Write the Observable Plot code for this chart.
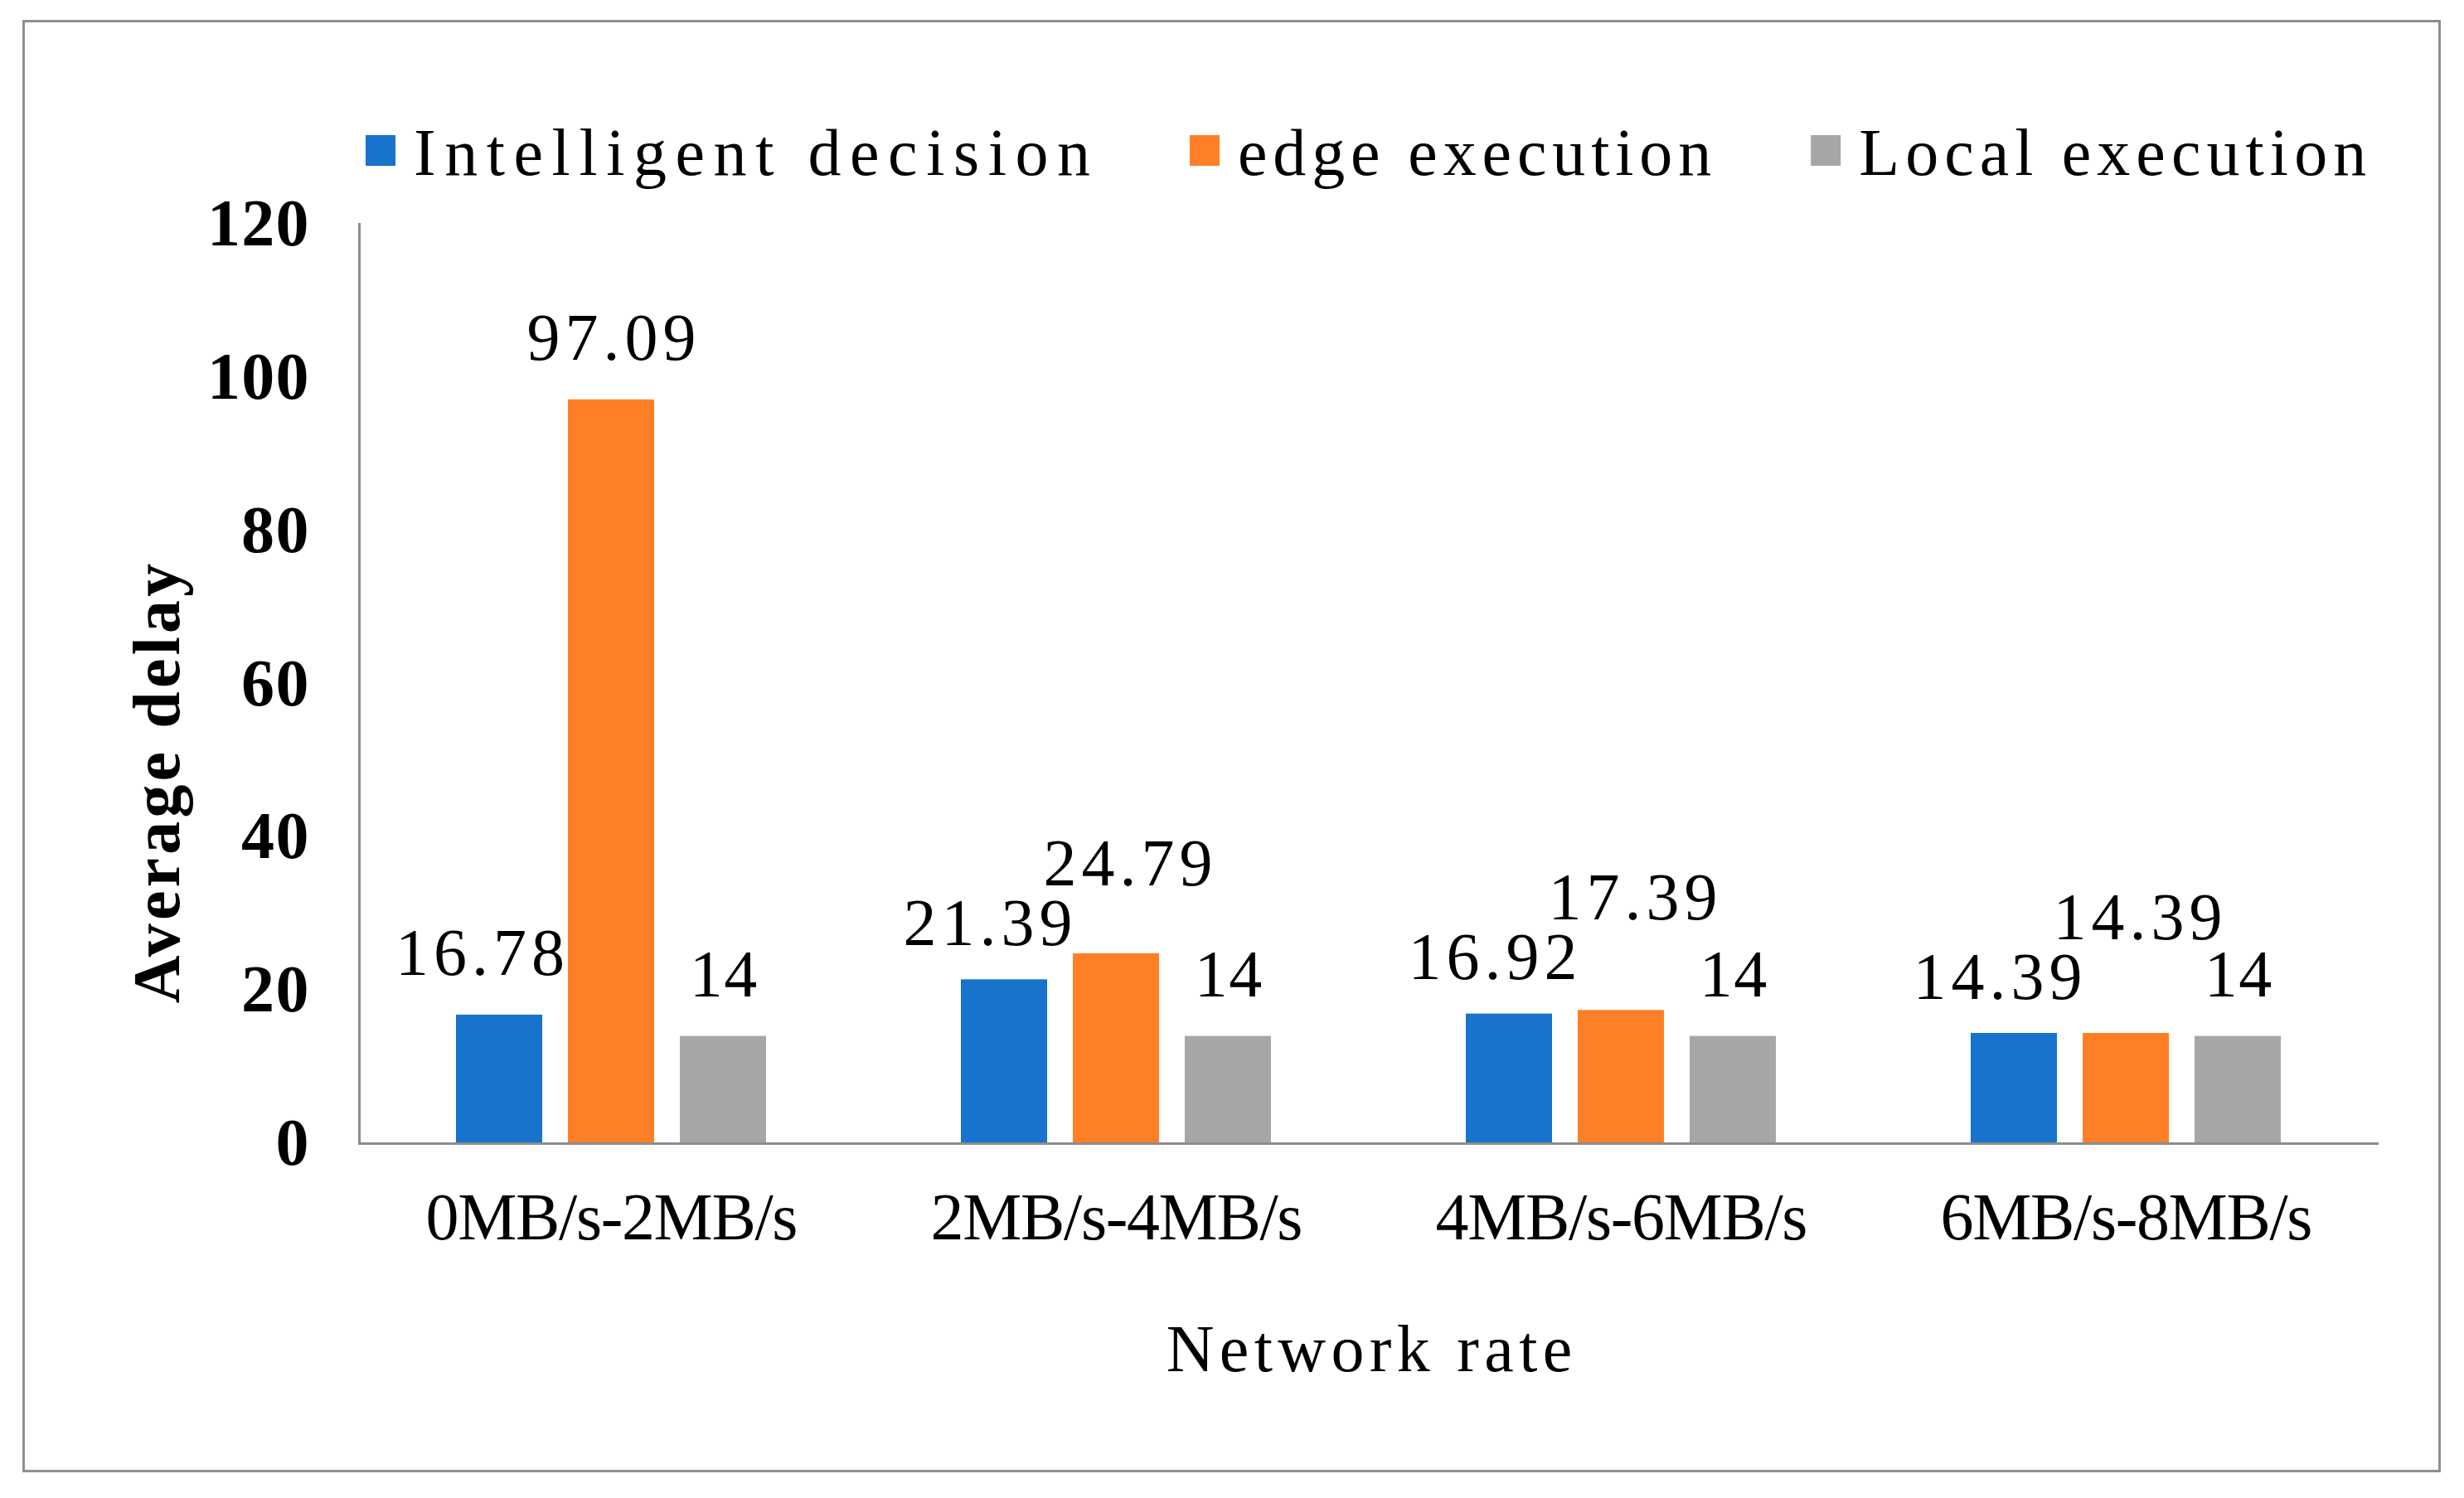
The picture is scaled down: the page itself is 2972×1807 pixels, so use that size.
<!DOCTYPE html>
<html>
<head>
<meta charset="utf-8">
<script src="https://cdn.jsdelivr.net/npm/d3@7"></script>
<script src="https://cdn.jsdelivr.net/npm/@observablehq/plot@0.6"></script>
<style>
html, body { margin: 0; padding: 0; background: #fff; }
#chart { position: relative; width: 2972px; height: 1807px; background: #fff; overflow: hidden; }
#border { position: absolute; left: 27px; top: 24px; width: 2917px; height: 1752px;
  border: 3px solid #8f8f8f; box-sizing: border-box; pointer-events: none; }
#chart svg { display: block; }
</style>
</head>
<body>
<div id="chart"><div id="border"></div></div>
<script>
// ---- data ----
const groups = ["0MB/s-2MB/s", "2MB/s-4MB/s", "4MB/s-6MB/s", "6MB/s-8MB/s"];
const series = ["Intelligent decision", "edge execution", "Local execution"];
const intelligentDecision = [16.78, 21.39, 16.92, 14.39];
const edgeExecution = [97.09, 24.79, 17.39, 14.39];
const localExecution = [14, 14, 14, 14];
const yTicks = [0, 20, 40, 60, 80, 100, 120];
const yDomain = [0, 120];
const xLabel = "Network rate";
const yLabel = "Average delay";
const colors = ["#1773CC", "#FF7F27", "#A6A6A6"];

const seriesValues = [intelligentDecision, edgeExecution, localExecution];
const table = groups.flatMap((g, gi) =>
  series.map((s, si) => ({group: g, series: s, value: seriesValues[si][gi]}))
);

// ---- layout / style ----
const FONT = "'Liberation Serif', 'DejaVu Serif', serif";
const CH = 40.8;               // emulate half-width monospaced glyph advance
const W = 2972, LEG_H = 240, H = 1807 - LEG_H;
const mL = 433, mR = 103, mT = 30, mB = 428;
const PI = 0.228, PO = 0.855;

// ---- data-label placement (avoid overlaps, Excel-like) ----
const k = (H - mT - mB) / (yDomain[1] - yDomain[0]);
const facetW = (W - mL - mR) / groups.length;
const step = facetW / (series.length - PI + 2 * PO);
const bw = step * (1 - PI);
const GAP = 48, LINE = 72, TEXT_H = 60;
const labels = [];
groups.forEach((g, gi) => {
  const row = series.map((s, si) => {
    const v = seriesValues[si][gi];
    const text = String(v);
    return {group: g, series: s, value: v, text, top: v * k, base: v * k + GAP,
            cx: si * step, half: text.length * CH / 2, dx: 0};
  });
  row.forEach((L, i) => {
    [i - 1, i + 1].forEach(j => {
      if (j < 0 || j >= row.length) return;
      const N = row[j];
      if (N.top <= L.base - 10) return;
      const dist = Math.abs(N.cx - L.cx) - bw / 2;
      const over = L.half - dist;
      if (over > 0) L.dx += (j > i ? -1 : 1) * (over + 5);
    });
  });
  for (let i = 1; i < row.length; i++) {
    const P = row[i - 1], L = row[i];
    const hOverlap = (P.half + L.half) > Math.abs(L.cx + L.dx - P.cx - P.dx);
    if (hOverlap && Math.abs(L.base - P.base) < TEXT_H) {
      P.dx -= 20; P.base -= 6;
      L.dx += 14; L.base = P.base + LINE;
    }
  }
  labels.push(...row);
});

const labelMarks = labels.map(d =>
  Plot.text([d], {fx: "group", x: "series", y: "value", text: "text",
    dx: d.dx, dy: -(d.base - d.top), lineAnchor: "bottom",
    fontSize: 80, fill: "#000"})
);

// ---- legend ----
const legend = d3.create("svg").attr("width", W).attr("height", LEG_H).style("display", "block");
let lx = 441;
series.forEach((s, i) => {
  legend.append("rect").attr("x", lx).attr("y", 163).attr("width", 36).attr("height", 37).attr("fill", colors[i]);
  const tx = lx + 58, len = s.length * CH;
  legend.append("text").attr("x", tx).attr("y", 211)
    .attr("font-family", FONT).attr("font-size", 80).attr("fill", "#000")
    .attr("textLength", len).attr("lengthAdjust", "spacing").text(s);
  lx = tx + len + 120;
});

// ---- plot ----
const plot = Plot.plot({
  width: W, height: H,
  marginLeft: mL, marginRight: mR, marginTop: mT, marginBottom: mB,
  style: {fontFamily: FONT, fontSize: "80px", color: "#000", background: "transparent", overflow: "visible"},
  fx: {domain: groups, padding: 0, label: null},
  x: {domain: series, paddingInner: PI, paddingOuter: PO, axis: null},
  y: {domain: yDomain, axis: null},
  color: {domain: series, range: colors},
  marks: [
    Plot.barY(table, {fx: "group", x: "series", y: "value", fill: "series"}),
    Plot.ruleY([0], {stroke: "#8c8c8c", strokeWidth: 3}),
    Plot.frame({anchor: "left", facetAnchor: "left", stroke: "#8c8c8c", strokeWidth: 3}),
    Plot.axisY({ticks: yTicks, tickSize: 0, tickPadding: 61, fontSize: 80, fontWeight: "bold", label: null}),
    Plot.text([yLabel], {frameAnchor: "left", facetAnchor: "left", rotate: -90, lineAnchor: "bottom",
      textAnchor: "middle", dx: -218, dy: 120, fontSize: 80, fontWeight: "bold", fill: "#000"}),
    Plot.axisFx({anchor: "bottom", tickSize: 0, tickPadding: 59, fontSize: 80,
      label: xLabel, labelAnchor: "center", labelOffset: 274, labelArrow: "none"}),
    ...labelMarks
  ]
});

// emulate the monospaced half-width glyph advance of the original font
d3.select(plot).selectAll("text").each(function () {
  const s = this.textContent;
  if (s && s.length) {
    this.setAttribute("textLength", s.length * CH);
    this.setAttribute("lengthAdjust", "spacing");
  }
});

const chart = document.getElementById("chart");
chart.appendChild(legend.node());
chart.appendChild(plot);
</script>
</body>
</html>
